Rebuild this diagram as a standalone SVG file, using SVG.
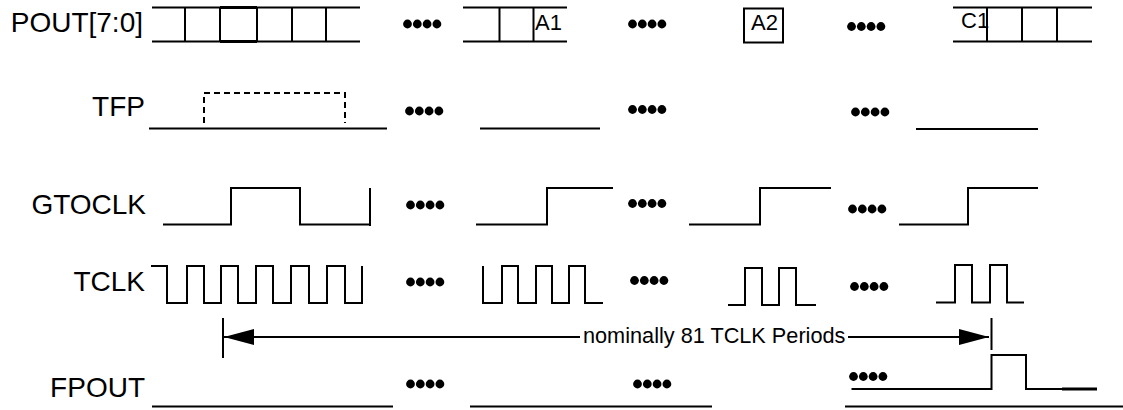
<svg xmlns="http://www.w3.org/2000/svg" xmlns:xlink="http://www.w3.org/1999/xlink" width="1123" height="410" viewBox="0 0 1123 410">
<style>
.w{fill:none;stroke:#000;stroke-width:2}
.thk{fill:none;stroke:#000;stroke-width:3.2}
.dash{fill:none;stroke:#000;stroke-width:2;stroke-dasharray:6 4}
.lbl{font-family:"Liberation Sans",Arial,sans-serif;font-size:28px;fill:#000;text-anchor:end}
.sm{font-family:"Liberation Sans",Arial,sans-serif;font-size:22px;fill:#000}
.note{font-family:"Liberation Sans",Arial,sans-serif;font-size:21.7px;fill:#000}
</style>
<defs>
<g id="dots"><circle cx="4.5" cy="0" r="4.4"/><circle cx="14.3" cy="0" r="4.4"/><circle cx="24.1" cy="0" r="4.4"/><circle cx="33.9" cy="0" r="4.4"/></g>
<marker id="ah" viewBox="0 0 30 16" refX="30" refY="8" markerWidth="30" markerHeight="16" orient="auto" markerUnits="userSpaceOnUse"><path d="M0,0 L30,8 L0,16 z" fill="#000"/></marker>
</defs>
<rect width="1123" height="410" fill="#fff"/>

<g id="pout">
<text class="lbl" x="143" y="32">POUT[7:0]</text>
<path class="w" d="M152,7.5 H360 M152,41.5 H360 M185,7.5 V41.5 M220,7.5 V41.5 M257,7.5 V41.5 M292,7.5 V41.5 M326,7.5 V41.5"/>
<path class="thk" d="M220,7.5 H257 M220,41.5 H257"/>
<use xlink:href="#dots" x="403" y="24"/>
<path class="w" d="M463,7.5 H567 M463,41.5 H567 M499.5,7.5 V41.5 M533.5,7.5 V41.5"/>
<text class="sm" x="535" y="29.5">A1</text>
<use xlink:href="#dots" x="628" y="24"/>
<rect class="w" x="744" y="8.5" width="39" height="34"/>
<text class="sm" x="751" y="30">A2</text>
<use xlink:href="#dots" x="847" y="26.5"/>
<path class="w" d="M953,7.5 H1092 M953,41.5 H1092 M987,7.5 V41.5 M1022,7.5 V41.5 M1057,7.5 V41.5"/>
<text class="sm" x="961" y="28">C1</text>
</g>

<g id="tfp">
<text class="lbl" x="145" y="116">TFP</text>
<path class="w" d="M149,128.5 H387"/>
<path class="dash" d="M204,123 V93 H345 V123"/>
<use xlink:href="#dots" x="405" y="111"/>
<path class="w" d="M480,128.5 H600"/>
<use xlink:href="#dots" x="628" y="109.5"/>
<use xlink:href="#dots" x="851" y="112"/>
<path class="w" d="M916,129 H1038"/>
</g>

<g id="gtoclk">
<text class="lbl" x="146" y="214">GTOCLK</text>
<path class="w" d="M163,224.5 H231 V188 H300 V224.5 H370 M370,188 V226"/>
<use xlink:href="#dots" x="406" y="205"/>
<path class="w" d="M476,224.5 H547 V188 H613"/>
<use xlink:href="#dots" x="628" y="203.5"/>
<path class="w" d="M689,224.5 H760 V188 H831"/>
<use xlink:href="#dots" x="848" y="209"/>
<path class="w" d="M899,224.5 H968 V188 H1038"/>
</g>

<g id="tclk">
<text class="lbl" x="145" y="291">TCLK</text>
<path class="w" d="M151,266 H167 V303 H187 V266 H204 V303 H221 V266 H238 V303 H256 V266 H273 V303 H291 V266 H309 V303 H327 V266 H345 V303 H362 V266"/>
<use xlink:href="#dots" x="406" y="282"/>
<path class="w" d="M483,266 V303 H502 V266 H518 V303 H536 V266 H552 V303 H569 V266 H585 V303 H603"/>
<use xlink:href="#dots" x="630" y="280.5"/>
<path class="w" d="M728,305 H745 V268 H762 V305 H779 V268 H796 V305 H816"/>
<use xlink:href="#dots" x="850" y="286.5"/>
<path class="w" d="M936,302.5 H955 V265 H972 V302.5 H990 V265 H1007 V302.5 H1024"/>
</g>

<g id="fpout">
<text class="lbl" x="145" y="397">FPOUT</text>
<path class="w" d="M152,406.5 H393"/>
<use xlink:href="#dots" x="406" y="384"/>
<path class="w" d="M470,406.5 H712"/>
<use xlink:href="#dots" x="633" y="384"/>
<use xlink:href="#dots" x="849" y="376.5"/>
<path class="w" d="M851.5,389 H991.5 V355 H1026 V389 H1097"/>
<path class="thk" d="M1062,389 H1097"/>
<path class="w" d="M845,406.5 H1123"/>
</g>

<g id="connectors">
<path class="w" d="M223,318 V358 M991.5,318 V350"/>
<path class="w" d="M580,337 H224" marker-end="url(#ah)"/>
<path class="w" d="M848,337 H989" marker-end="url(#ah)"/>
<text class="note" x="583" y="343">nominally 81 TCLK Periods</text>
</g>
</svg>
